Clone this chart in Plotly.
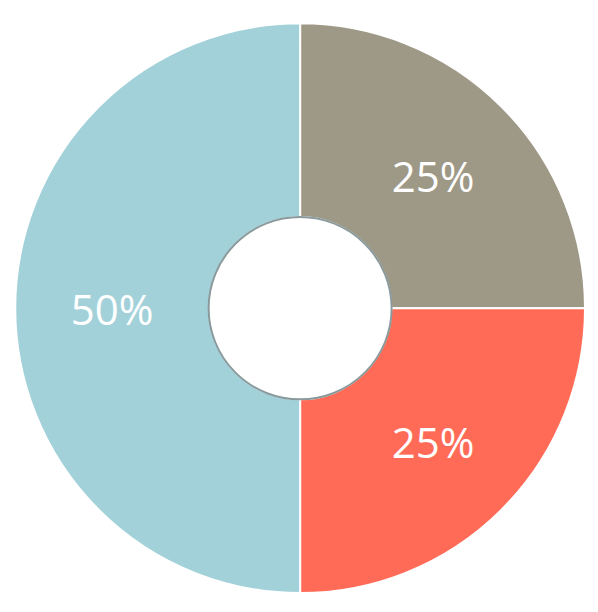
import plotly.graph_objects as go

labels = ["A", "B", "C"]
values = [25, 25, 50]
colors = ["#9E9886", "#FF6B57", "#A3D1D9"]

fig = go.Figure(go.Pie(
    labels=labels, values=values, hole=0.32, sort=False, direction="clockwise",
    rotation=0, marker=dict(colors=colors, line=dict(color="white", width=2)),
    texttemplate="%{percent:.0%}", textposition="inside", insidetextorientation="horizontal",
    textfont=dict(color="white", size=42, family="Open Sans"),
    domain=dict(x=[0.012, 0.965], y=[0.044, 0.975]), showlegend=False,
))
fig.add_shape(type="circle", xref="paper", yref="paper",
              x0=0.4885-0.153, x1=0.4885+0.153, y0=0.5095-0.149, y1=0.5095+0.149,
              line=dict(color="#8a9a9c", width=2), fillcolor="white")
fig.update_layout(width=598, height=612, margin=dict(l=0, r=0, t=0, b=0),
                  paper_bgcolor="white", plot_bgcolor="white")
fig.write_html("out.html")
